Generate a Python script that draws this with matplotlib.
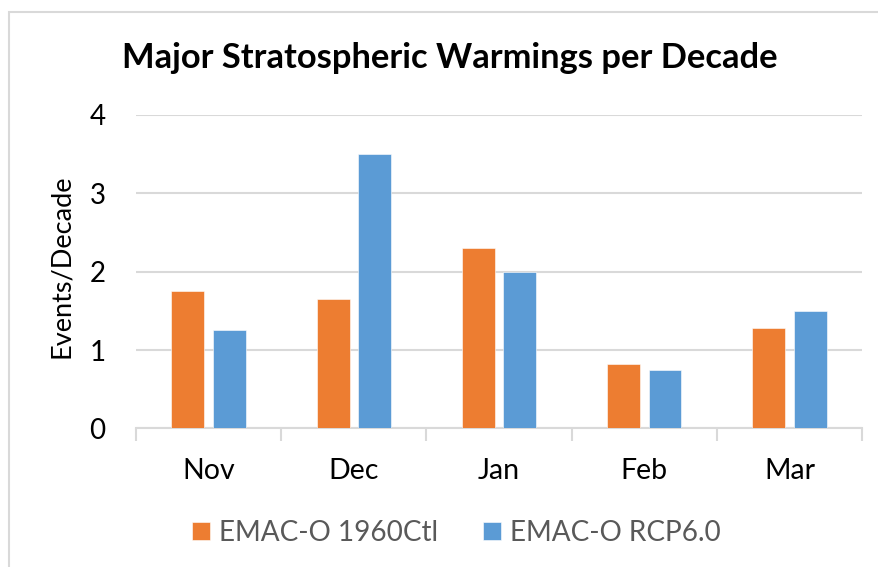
import numpy as np
import matplotlib
matplotlib.use("Agg")
import matplotlib.pyplot as plt
from matplotlib.patches import Rectangle

plt.rcParams['font.family'] = ['Lato', 'DejaVu Sans']

months = ['Nov', 'Dec', 'Jan', 'Feb', 'Mar']
ctl_1960 = [1.75, 1.65, 2.3, 0.82, 1.28]
rcp60 = [1.25, 3.5, 2.0, 0.75, 1.5]
series_names = ['EMAC-O 1960Ctl', 'EMAC-O RCP6.0']

orange = '#ED7D31'
blue = '#5B9BD5'
grid_col = '#D9D9D9'

fig = plt.figure(figsize=(8.79, 5.67), dpi=100)
ax = fig.add_axes([0.1547, 0.2443, 0.826, 0.5534])

x = np.arange(len(months))
w = 0.227
off = 0.143
b1 = ax.bar(x - off, ctl_1960, w, color=orange, edgecolor='white', linewidth=0.4,
            label=series_names[0], zorder=3)
b2 = ax.bar(x + off, rcp60, w, color=blue, edgecolor='white', linewidth=0.4,
            label=series_names[1], zorder=3)

ax.set_xlim(-0.5, len(months) - 0.5)
ax.set_ylim(0, 4)
ax.set_yticks([0, 1, 2, 3, 4])
ax.yaxis.grid(True, color=grid_col, linewidth=1.5, zorder=0)
ax.set_axisbelow(True)

for s in ['top', 'right', 'left']:
    ax.spines[s].set_visible(False)
ax.spines['bottom'].set_color(grid_col)
ax.spines['bottom'].set_linewidth(1.5)

# category separators below the axis
ax.set_xticks(np.arange(-0.5, len(months)), minor=False)
ax.set_xticklabels([])
ax.tick_params(axis='x', which='major', length=9, width=1.5, color=grid_col)
ax.set_xticks(x, minor=True)
ax.set_xticklabels(months, minor=True, fontsize=20.5)
ax.tick_params(axis='x', which='minor', length=0, pad=21)
ax.tick_params(axis='y', length=0, pad=22, labelsize=20)

# y axis title placed in figure coords
fig.text(0.0705, 0.531, 'Events/Decade', rotation=90, ha='center', va='center',
         fontsize=19.5)

fig.text(0.5114, 0.898, 'Major Stratospheric Warmings per Decade',
         ha='center', va='center', fontsize=24.8, fontweight='bold')

leg = fig.legend(handles=[b1, b2], labels=series_names, loc='center',
                 bbox_to_anchor=(0.5193, 0.06), ncol=2, frameon=False,
                 fontsize=20.1, handlelength=0.645, handleheight=0.645,
                 handletextpad=0.32, columnspacing=1.6, labelcolor='#595959')

# outer chart frame
fig.patches.append(Rectangle((9 / 879, -0.1), 1.2, 1 - 12 / 567 + 0.1,
                             transform=fig.transFigure, fill=False,
                             edgecolor=grid_col, linewidth=1.5))

fig.savefig('out.png', dpi=100)
